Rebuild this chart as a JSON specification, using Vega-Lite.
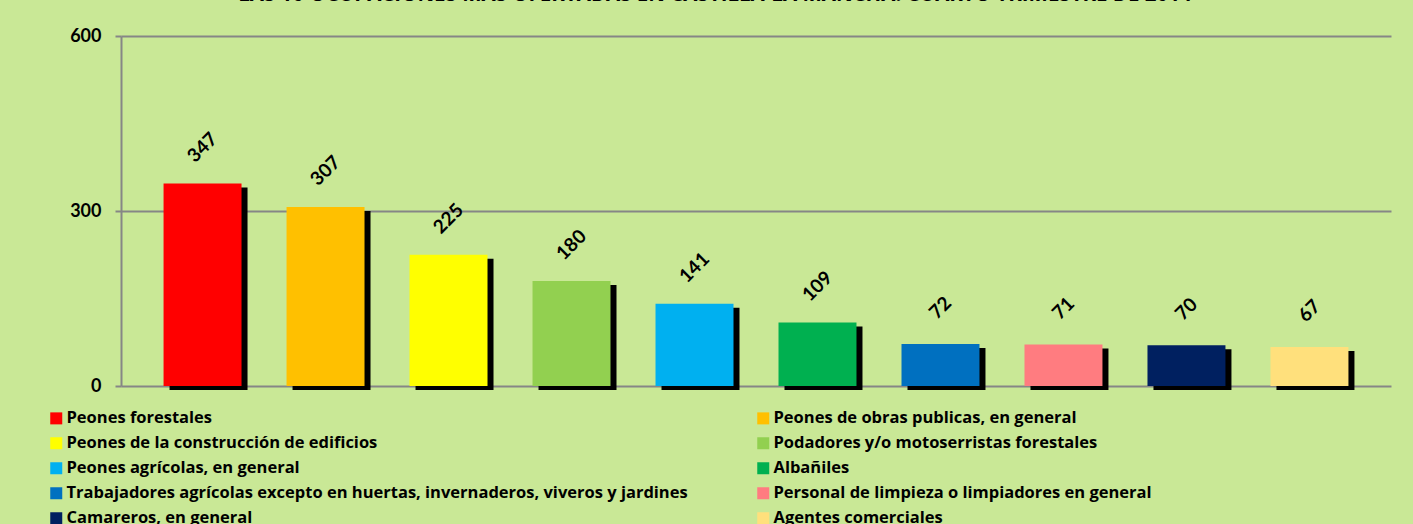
{
  "$schema": "https://vega.github.io/schema/vega-lite/v6.json",
  "autosize": {"type": "none"},
  "padding": {"left": 121, "top": 36, "right": 22, "bottom": 138},
  "width": 1270,
  "height": 350,
  "background": "#C9E896",
  "title": {
    "text": "LAS 10 OCUPACIONES MÁS OFERTADAS EN CASTILLA-LA MANCHA. CUARTO TRIMESTRE DE 2014",
    "font": "Open Sans",
    "fontSize": 20.5,
    "fontWeight": "bold",
    "color": "#000000",
    "anchor": "middle",
    "baseline": "bottom",
    "offset": 2,
    "dx": -41
  },
  "config": {
    "view": {"stroke": null},
    "font": "Open Sans"
  },
  "data": {
    "values": [
      {"ocupacion": "Peones forestales", "valor": 347},
      {"ocupacion": "Peones de obras publicas, en general", "valor": 307},
      {"ocupacion": "Peones de la construcción de edificios", "valor": 225},
      {"ocupacion": "Podadores y/o motoserristas forestales", "valor": 180},
      {"ocupacion": "Peones agrícolas, en general", "valor": 141},
      {"ocupacion": "Albañiles", "valor": 109},
      {"ocupacion": "Trabajadores agrícolas excepto en huertas, invernaderos, viveros y jardines", "valor": 72},
      {"ocupacion": "Personal de limpieza o limpiadores en general", "valor": 71},
      {"ocupacion": "Camareros, en general", "valor": 70},
      {"ocupacion": "Agentes comerciales", "valor": 67}
    ]
  },
  "encoding": {
    "x": {
      "field": "ocupacion",
      "type": "nominal",
      "sort": null,
      "axis": null,
      "scale": {"paddingInner": 0.366, "paddingOuter": 0.346}
    },
    "y": {
      "field": "valor",
      "type": "quantitative",
      "scale": {"domain": [0, 600], "nice": false},
      "axis": {
        "title": null,
        "values": [0, 300, 600],
        "grid": true,
        "gridColor": "#868686",
        "gridWidth": 2,
        "gridOpacity": 1,
        "domain": true,
        "domainColor": "#868686",
        "domainWidth": 2,
        "ticks": true,
        "tickSize": 6,
        "tickColor": "#868686",
        "tickWidth": 2,
        "labelFont": "Lato",
        "labelFontSize": 18,
        "labelFontWeight": "bold",
        "labelColor": "#000000",
        "labelPadding": 14
      }
    }
  },
  "layer": [
    {
      "mark": {"type": "bar", "color": "#000000", "xOffset": 6, "yOffset": 4}
    },
    {
      "mark": {"type": "bar"},
      "encoding": {
        "color": {
          "field": "ocupacion",
          "type": "nominal",
          "sort": null,
          "scale": {
            "range": ["#FF0000", "#FFC000", "#FFFF00", "#92D050", "#00B0F0", "#00B050", "#0070C0", "#FF7C80", "#002060", "#FFE07C"]
          },
          "legend": {
            "title": null,
            "orient": "none",
            "legendX": -73,
            "legendY": 374,
            "direction": "horizontal",
            "columns": 2,
            "columnPadding": 67,
            "rowPadding": 8,
            "symbolType": "square",
            "symbolSize": 144,
            "symbolStrokeWidth": 0,
            "labelFont": "Open Sans",
            "labelFontSize": 16.5,
            "labelFontWeight": "bold",
            "labelColor": "#000000",
            "labelOffset": 2,
            "labelLimit": 900
          }
        }
      }
    },
    {
      "mark": {
        "type": "text",
        "angle": -45,
        "align": "center",
        "baseline": "middle",
        "yOffset": -36,
        "font": "Lato",
        "fontSize": 19,
        "fontWeight": "bold",
        "color": "#000000"
      },
      "encoding": {
        "text": {"field": "valor", "type": "quantitative"}
      }
    }
  ]
}
